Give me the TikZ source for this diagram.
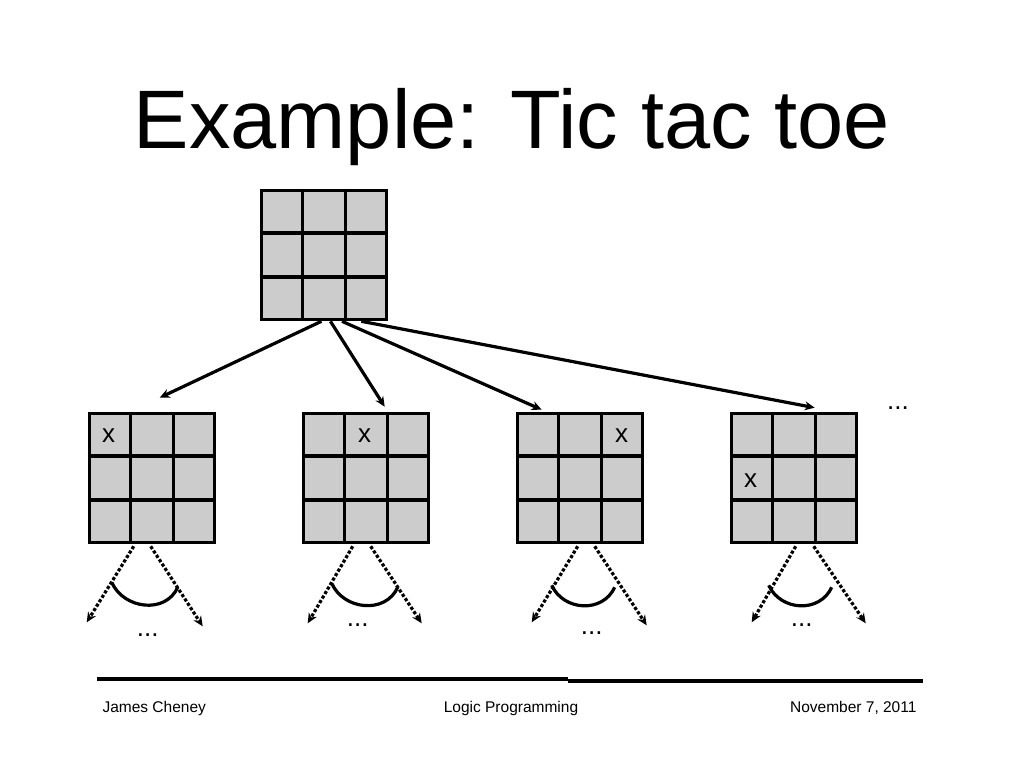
\documentclass[tikz,border=0pt]{standalone}
\usepackage{fontspec}
\setmainfont{Liberation Sans}
\usetikzlibrary{arrows.meta,calc}

\definecolor{cellgray}{HTML}{CCCCCC}

\begin{document}
\begin{tikzpicture}[
    x=1pt, y=-1pt,
    board/.style={draw, line width=3.6pt, fill=cellgray, inner sep=0pt, minimum width=125pt, minimum height=129pt},
    gridline/.style={line width=3.6pt},
    move/.style={->, line width=3.2pt},
    branch/.style={->, line width=3.2pt, dotted},
    swing/.style={line width=3.2pt},
    piece/.style={font=\fontsize{26}{28}\selectfont, anchor=base},
    more/.style={font=\fontsize{26}{28}\selectfont, anchor=base},
    footer/.style={font=\fontsize{15.5}{18}\selectfont, anchor=base},
    >={Stealth[length=10pt,width=9pt]}
  ]
    \useasboundingbox (0,0) rectangle (1024,768);

    \node[anchor=base, font=\fontsize{83}{96}\selectfont] (title) at (512,148) {Example: Tic tac toe};

    % boards
    \node[board] (root) at (324,255) {};
    \node[board] (b1) at (152,478) {};
    \node[board] (b2) at (366,478) {};
    \node[board] (b3) at (580,478) {};
    \node[board] (b4) at (794,478) {};

    \foreach \b in {root,b1,b2,b3,b4} {
      \foreach \f in {1/3,2/3} {
        \draw[gridline] ($(\b.north west)!\f!(\b.north east)$) -- ($(\b.south west)!\f!(\b.south east)$);
        \draw[gridline] ($(\b.north west)!\f!(\b.south west)$) -- ($(\b.north east)!\f!(\b.south east)$);
      }
    }

    % moves
    \node[piece] (x1) at ($(b1.north west)+(21,31)$) {x};
    \node[piece] (x2) at ($(b2.north west)+(63,31)$) {x};
    \node[piece] (x3) at ($(b3.north west)+(106,31)$) {x};
    \node[piece] (x4) at ($(b4.north west)+(21,76)$) {x};

    \coordinate (t1) at ($(b1.north west)+(72,-14)$);
    \coordinate (t2) at ($(b2.north west)+(83,-5)$);
    \coordinate (t3) at ($(b3.north west)+(26,-2)$);
    \coordinate (t4) at ($(b4.north west)+(85,-4)$);

    \draw[move] ($(root.south west)!0.48!(root.south east)$) -- (t1);
    \draw[move] ($(root.south west)!0.55!(root.south east)$) -- (t2);
    \draw[move] ($(root.south west)!0.64!(root.south east)$) -- (t3);
    \draw[move] ($(root.south west)!0.79!(root.south east)$) -- (t4);

    \node[more] (moreroot) at (898,409) {...};

    % next level
    \draw[branch] ($(b1.south west)+(46,2)$) -- ($(b1.south west)+(-1,78)$);
    \draw[branch] ($(b1.south west)+(63,2)$) -- ($(b1.south west)+(115,82)$);
    \draw[swing] ($(b1.south west)+(24,38)$) .. controls +(12,27) and +(-12,27) .. ($(b1.south west)+(90,43)$);
    \node[more] (more1) at ($(b1.south west)+(60,92)$) {...};

    \draw[branch] ($(b2.south west)+(51,2)$) -- ($(b2.south west)+(6,79)$);
    \draw[branch] ($(b2.south west)+(69,2)$) -- ($(b2.south west)+(120,79)$);
    \draw[swing] ($(b2.south west)+(30,39)$) .. controls +(12,27) and +(-12,27) .. ($(b2.south west)+(96,43)$);
    \node[more] (more2) at ($(b2.south west)+(56,82)$) {...};

    \draw[branch] ($(b3.south west)+(62,2)$) -- ($(b3.south west)+(16,78)$);
    \draw[branch] ($(b3.south west)+(79,2)$) -- ($(b3.south west)+(131,81)$);
    \draw[swing] ($(b3.south west)+(36,41)$) .. controls +(12,26) and +(-12,26) .. ($(b3.south west)+(99,43)$);
    \node[more] (more3) at ($(b3.south west)+(76,90)$) {...};

    \draw[branch] ($(b4.south west)+(66,2)$) -- ($(b4.south west)+(22,78)$);
    \draw[branch] ($(b4.south west)+(84,2)$) -- ($(b4.south west)+(136,79)$);
    \draw[swing] ($(b4.south west)+(39,41)$) .. controls +(12,26) and +(-12,26) .. ($(b4.south west)+(102,43)$);
    \node[more] (more4) at ($(b4.south west)+(72,82)$) {...};

    % footer
    \coordinate (rulel) at (97,679);
    \coordinate (rulem) at (568,679);
    \coordinate (rulen) at (568,681);
    \coordinate (ruler) at (923,681);
    \draw[line width=3.8pt] (rulel) -- (rulem);
    \draw[line width=3.8pt] (rulen) -- (ruler);

    \node[footer, anchor=base west] (author) at (99,712) {James Cheney};
    \node[footer] (course) at (511,712) {Logic Programming};
    \node[footer, anchor=base east] (date) at (920,712) {November 7, 2011};
  \end{tikzpicture}
\end{document}
